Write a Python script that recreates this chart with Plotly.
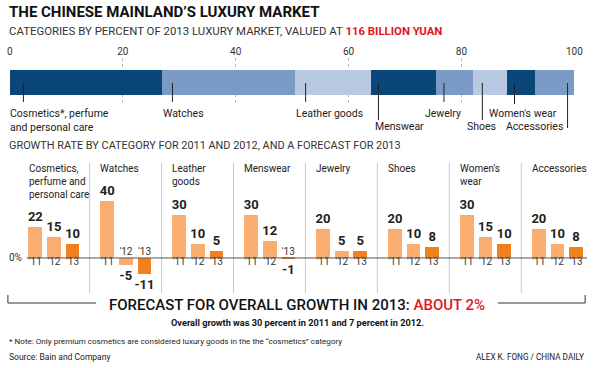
import plotly.graph_objects as go

# ---------------- data ----------------
categories = ["Cosmetics*, perfume and personal care", "Watches", "Leather goods",
              "Menswear", "Jewelry", "Shoes", "Women's wear", "Accessories"]
panel_titles = ["Cosmetics,<br>perfume and<br>personal care", "Watches", "Leather<br>goods",
                "Menswear", "Jewelry", "Shoes", "Women's<br>wear", "Accessories"]
share_2013 = [27, 23.5, 13.5, 11.5, 6.5, 6, 5, 7]
growth_2011 = [22, 40, 30, 30, 20, 20, 30, 20]
growth_2012 = [15, -5, 10, 12, 5, 10, 15, 10]
growth_2013 = [10, -11, 5, -1, 5, 8, 10, 8]
years = ["'11", "'12", "'13"]
share_ticks = [0, 20, 40, 60, 80, 100]

# ---------------- style / layout helpers ----------------
W, H = 600, 368
def fx(p): return p / W
def fy(p): return 1 - p / H

NARROW = "Roboto, Liberation Sans, sans-serif"
BOLDF = "Roboto, Liberation Sans, sans-serif"
TOP_COLORS = ["#0b4679", "#7b9bc6", "#b8c9e1"]
LIGHT_OR = "#f9ae70"
DARK_OR = "#f3801f"
TXT = "#222222"

fig = go.Figure()

# ---- top stacked share bar ----
for i, (c, s) in enumerate(zip(categories, share_2013)):
    fig.add_trace(go.Bar(x=[s], y=[0], orientation="h", width=1, name=c,
                         marker=dict(color=TOP_COLORS[i % 3], line=dict(width=0)),
                         xaxis="x", yaxis="y", showlegend=False, hoverinfo="skip"))

# ---- small multiples ----
panel_step = 73.4
panel_left0 = 23.5
panel_w = 57
layout_axes = {}
for i in range(len(categories)):
    ax = i + 2
    vals = [growth_2011[i], growth_2012[i], growth_2013[i]]
    fig.add_trace(go.Bar(x=years, y=vals, marker=dict(color=[LIGHT_OR, LIGHT_OR, DARK_OR], line=dict(width=0)),
                         text=[str(v) for v in vals], textposition="outside", constraintext="none",
                         cliponaxis=False, textfont=dict(family=BOLDF, size=13, color=TXT, weight="bold"),
                         xaxis=f"x{ax}", yaxis=f"y{ax}", showlegend=False, hoverinfo="skip"))
    fig.add_trace(go.Scatter(x=years, y=[0, 0, 0], mode="text", text=years,
                             textposition=["bottom center" if v >= 0 else "top center" for v in vals],
                             textfont=dict(family=NARROW, size=10, color="#333"),
                             cliponaxis=False, xaxis=f"x{ax}", yaxis=f"y{ax}",
                             showlegend=False, hoverinfo="skip"))
    x0 = panel_left0 + panel_step * i
    layout_axes[f"xaxis{ax}"] = dict(domain=[fx(x0), fx(x0 + panel_w)], range=[-0.5, 2.5],
                                     type="category", visible=False, fixedrange=True)
    layout_axes[f"yaxis{ax}"] = dict(domain=[fy(290), fy(160)], range=[-22.4, 68.5],
                                     visible=False, fixedrange=True)

shapes = []
annotations = []

# separators between panels
for i in range(1, len(categories)):
    xs = panel_left0 + panel_step * i - 8.5
    shapes.append(dict(type="line", xref="paper", yref="paper", x0=fx(xs), x1=fx(xs),
                       y0=fy(163), y1=fy(293), line=dict(color="#c8c8c8", width=1)))
# zero line across panels
shapes.append(dict(type="line", xref="paper", yref="y2", x0=fx(24), x1=fx(596), y0=0, y1=0,
                   line=dict(color="#555", width=1)))
annotations.append(dict(text="0%", xref="paper", yref="y2", x=fx(4), y=0, xanchor="left",
                        yanchor="middle", showarrow=False, font=dict(family=NARROW, size=10, color="#333")))

# panel titles
for i, t in enumerate(panel_titles):
    x0 = panel_left0 + panel_step * i + 0.5
    annotations.append(dict(text=t, xref="paper", yref="paper", x=fx(x0), y=fy(161),
                            xanchor="left", yanchor="top", align="left", showarrow=False,
                            font=dict(family=NARROW, size=10, color=TXT)))

# leader lines + labels for the share bar
starts = []
acc = 0
for s in share_2013:
    starts.append(acc)
    acc += s
line_offsets = [2.4, 1.8, 1.9, 1.3, 1.4, 1.7, 1.4, 5.8]
line_ends = [102, 102, 102, 120, 102, 120, 104, 128]
label_rows = [1, 1, 1, 2, 1, 2, 1, 2]
label_anchor = ["left", "left", "left", "left", "center", "right", "left", "right"]
label_shift = [-15, -11, -12, -5, -1, 16, -28, -3]
label_text = ["Cosmetics*, perfume<br>and personal care", "Watches", "Leather goods", "Menswear",
              "Jewelry", "Shoes", "Women's wear", "Accessories"]
for i in range(len(categories)):
    lx = starts[i] + line_offsets[i]
    shapes.append(dict(type="line", xref="x", yref="paper", x0=lx, x1=lx, y0=fy(83), y1=fy(line_ends[i]),
                       line=dict(color="#222", width=1)))
    ycen = 112 if label_rows[i] == 1 else 125
    annotations.append(dict(text=label_text[i], xref="x", yref="paper", x=lx, xshift=label_shift[i],
                            y=fy(ycen - 7), xanchor=label_anchor[i], yanchor="top", align="left",
                            showarrow=False, font=dict(family=NARROW, size=10.5, color=TXT)))

# titles
annotations.append(dict(text="<b>THE CHINESE MAINLAND’S LUXURY MARKET</b>", xref="paper", yref="paper",
                        x=fx(4), y=fy(12), xanchor="left", yanchor="middle", showarrow=False,
                        font=dict(family=BOLDF, size=15, color="#111", weight=900)))
annotations.append(dict(text="CATEGORIES BY PERCENT OF 2013 LUXURY MARKET, VALUED AT <span style='color:#e3161d'><b>116 BILLION YUAN</b></span>",
                        xref="paper", yref="paper", x=fx(4), y=fy(31), xanchor="left", yanchor="middle",
                        showarrow=False, font=dict(family=NARROW, size=11.4, color="#333")))
annotations.append(dict(text="GROWTH RATE BY CATEGORY FOR 2011 AND 2012, AND A FORECAST FOR 2013",
                        xref="paper", yref="paper", x=fx(4), y=fy(145), xanchor="left", yanchor="middle",
                        showarrow=False, font=dict(family=NARROW, size=10.9, color="#333")))

# bottom forecast bracket
for (a, b, v) in [(5, 95, 5), (505, 594, 594)]:
    shapes.append(dict(type="line", xref="paper", yref="paper", x0=fx(a), x1=fx(b), y0=fy(303), y1=fy(303),
                       line=dict(color="#333", width=1)))
    shapes.append(dict(type="line", xref="paper", yref="paper", x0=fx(v), x1=fx(v), y0=fy(295), y1=fy(303),
                       line=dict(color="#333", width=1)))
annotations.append(dict(text="FORECAST FOR OVERALL GROWTH IN 2013: <span style='color:#e3161d'>ABOUT 2%</span>",
                        xref="paper", yref="paper", x=fx(300), y=fy(305), xanchor="center", yanchor="middle",
                        showarrow=False, font=dict(family=BOLDF, size=15, color="#111", weight=500)))
annotations.append(dict(text="<b>Overall growth was 30 percent in 2011 and 7 percent in 2012.</b>",
                        xref="paper", yref="paper", x=fx(300), y=fy(322), xanchor="center", yanchor="middle",
                        showarrow=False, font=dict(family=NARROW, size=9.2, color="#111")))
annotations.append(dict(text="* Note: Only premium cosmetics are considered luxury goods in the the “cosmetics” category",
                        xref="paper", yref="paper", x=fx(4), y=fy(341), xanchor="left", yanchor="middle",
                        showarrow=False, font=dict(family=NARROW, size=8.1, color="#222")))
annotations.append(dict(text="Source: Bain and Company", xref="paper", yref="paper", x=fx(4), y=fy(357),
                        xanchor="left", yanchor="middle", showarrow=False,
                        font=dict(family=NARROW, size=8.5, color="#222")))
annotations.append(dict(text="ALEX K. FONG / CHINA DAILY", xref="paper", yref="paper", x=fx(595), y=fy(357),
                        xanchor="right", yanchor="middle", showarrow=False,
                        font=dict(family=NARROW, size=8.2, color="#222")))

fig.update_layout(
    width=W, height=H, margin=dict(l=0, r=0, t=0, b=0),
    paper_bgcolor="white", plot_bgcolor="white",
    barmode="stack", bargap=0.263, hovermode=False,
    xaxis=dict(domain=[fx(7), fx(583)], range=[0, 100], side="top", tickvals=share_ticks,
               ticks="", showline=False, zeroline=False, showgrid=True, gridcolor="#bbbbbb",
               griddash="dot", gridwidth=1, tickfont=dict(family=NARROW, size=10, color="#333"),
               fixedrange=True),
    yaxis=dict(domain=[fy(106), fy(58)], range=[-0.94, 0.98], visible=False, fixedrange=True),
    shapes=shapes, annotations=annotations,
    **layout_axes,
)

fig.write_html("out.html", config={"displayModeBar": False},
               post_script="document.body.style.margin='0px'; document.body.style.overflow='hidden';")
